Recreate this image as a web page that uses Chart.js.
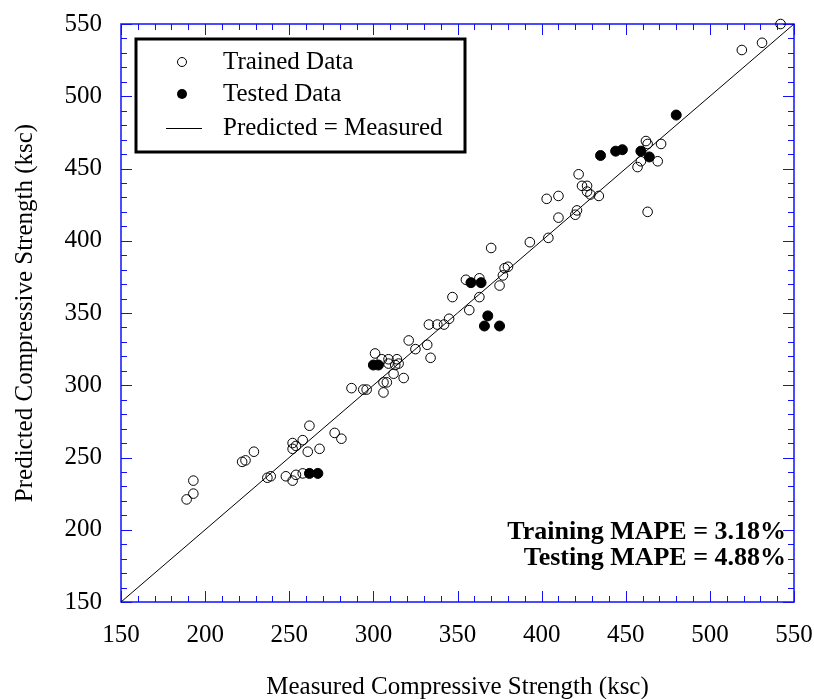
<!DOCTYPE html>
<html>
<head>
<meta charset="utf-8">
<title>Measured vs Predicted Compressive Strength</title>
<script src="https://cdn.jsdelivr.net/npm/chart.js@4.4.1/dist/chart.umd.min.js"></script>
<style>
  html, body { margin: 0; padding: 0; background: #fff; }
  #wrap { width: 814px; height: 699px; }
</style>
</head>
<body>
<div id="wrap"><canvas id="strengthChart" width="814" height="699"></canvas></div>
<script>
// training set: measured (x) and predicted (y), ksc
const trainMeasured = [
  189, 193, 193, 222, 224, 229, 237, 239, 248, 252, 252, 252, 254, 254, 258, 258, 261, 262, 268, 277, 281,
  287, 294, 296, 306, 306, 308, 312, 318, 301, 305, 309, 309, 314, 315, 313, 321, 325, 332, 334, 333, 338,
  342, 345, 347, 357, 355, 363, 363, 370, 375, 377, 378, 380, 393,
  404, 410, 421, 420, 403, 410, 422, 424, 427, 427, 429, 434, 457, 459, 462, 463, 469, 471, 463, 519, 531, 542
];
const trainPredicted = [
  221, 225, 234, 247, 248, 254, 236, 237, 237, 260, 256, 234, 258, 238, 262, 239, 254, 272, 256, 267, 263,
  298, 297, 297, 295, 302, 302, 308, 305, 322, 318, 318, 315, 318, 315, 314, 331, 325, 328, 319, 342, 342,
  342, 346, 361, 352, 373, 374, 361, 395, 369, 376, 381, 382, 399,
  402, 416, 421, 418, 429, 431, 446, 438, 438, 434, 432, 431, 451, 455, 469, 467, 455, 467, 420, 532, 537, 550
];

// testing set
const testMeasured  = [262, 267, 300, 303, 358, 364, 366, 368, 375, 435, 444, 448, 459, 464, 480];
const testPredicted = [239, 239, 314, 314, 371, 371, 341, 348, 341, 459, 462, 463, 462, 458, 487];

// 1:1 reference line
const idealLine = [150, 550];

const axisMin = 150, axisMax = 550, majorStep = 50, minorStep = 10;
const trainingMape = '3.18%';
const testingMape = '4.88%';

const serif = '"Liberation Serif", "Times New Roman", serif';
const axisBlue = '#1010ff';

const toPoints = (xs, ys) => xs.map((v, i) => ({ x: v, y: ys[i] }));

// blue frame with inward ticks on all four sides
const frameTicks = {
  id: 'frameTicks',
  beforeDatasetsDraw(chart) {
    const { ctx, chartArea: a, scales: { x, y } } = chart;
    ctx.save();
    ctx.strokeStyle = axisBlue;
    ctx.lineWidth = 1.5;
    ctx.strokeRect(a.left, a.top, a.right - a.left, a.bottom - a.top);
    ctx.lineWidth = 1;
    for (let v = axisMin; v <= axisMax; v += minorStep) {
      const len = v % majorStep === 0 ? 11 : 6;
      const px = Math.round(x.getPixelForValue(v)) + 0.5;
      const py = Math.round(y.getPixelForValue(v)) + 0.5;
      ctx.beginPath();
      ctx.moveTo(px, a.bottom); ctx.lineTo(px, a.bottom - len);
      ctx.moveTo(px, a.top); ctx.lineTo(px, a.top + len);
      ctx.moveTo(a.left, py); ctx.lineTo(a.left + len, py);
      ctx.moveTo(a.right, py); ctx.lineTo(a.right - len, py);
      ctx.stroke();
    }
    ctx.restore();
  }
};

// boxed legend in the upper left and the MAPE notes in the lower right
const notes = {
  id: 'notes',
  afterDraw(chart) {
    const { ctx, chartArea: a } = chart;
    ctx.save();
    const bx = a.left + 15, by = a.top + 15, bw = 329, bh = 113;
    ctx.fillStyle = '#fff';
    ctx.fillRect(bx, by, bw, bh);
    ctx.strokeStyle = '#000';
    ctx.lineWidth = 3;
    ctx.strokeRect(bx, by, bw, bh);

    const mx = bx + 46, tx = bx + 87;
    const rows = [by + 23, by + 55, by + 89];
    ctx.lineWidth = 1;
    ctx.beginPath();
    ctx.arc(mx, rows[0], 4.5, 0, Math.PI * 2);
    ctx.stroke();
    ctx.fillStyle = '#000';
    ctx.beginPath();
    ctx.arc(mx, rows[1], 5, 0, Math.PI * 2);
    ctx.fill();
    ctx.beginPath();
    ctx.moveTo(mx - 16, rows[2] + 0.5);
    ctx.lineTo(mx + 20, rows[2] + 0.5);
    ctx.stroke();

    ctx.font = '25px ' + serif;
    ctx.textBaseline = 'middle';
    ctx.textAlign = 'left';
    ctx.fillText('Trained Data', tx, rows[0]);
    ctx.fillText('Tested Data', tx, rows[1]);
    ctx.fillText('Predicted = Measured', tx, rows[2]);

    ctx.font = 'bold 26px ' + serif;
    ctx.textAlign = 'right';
    ctx.fillText('Training MAPE = ' + trainingMape, a.right - 8, a.bottom - 70);
    ctx.fillText('Testing MAPE = ' + testingMape, a.right - 8, a.bottom - 44);
    ctx.restore();
  }
};

new Chart(document.getElementById('strengthChart'), {
  type: 'scatter',
  data: {
    datasets: [
      {
        label: 'Trained Data',
        data: toPoints(trainMeasured, trainPredicted),
        pointStyle: 'circle',
        pointRadius: 4.8,
        pointBorderWidth: 1,
        borderColor: '#000',
        backgroundColor: 'rgba(0,0,0,0)',
        clip: false
      },
      {
        label: 'Tested Data',
        data: toPoints(testMeasured, testPredicted),
        pointStyle: 'circle',
        pointRadius: 5,
        pointBorderWidth: 1,
        borderColor: '#000',
        backgroundColor: '#000',
        clip: false
      },
      {
        label: 'Predicted = Measured',
        type: 'line',
        data: toPoints(idealLine, idealLine),
        borderColor: '#000',
        borderWidth: 1,
        pointRadius: 0,
        fill: false
      }
    ]
  },
  options: {
    responsive: false,
    animation: false,
    layout: { padding: { top: 24, right: 20, left: 0, bottom: -3 } },
    plugins: {
      legend: { display: false },
      tooltip: { enabled: false }
    },
    scales: {
      x: {
        type: 'linear',
        min: axisMin,
        max: axisMax,
        afterFit: s => {
          s.height = 100;
          s.paddingLeft = 0;
          s.paddingRight = 0;
        },
        ticks: {
          stepSize: majorStep,
          color: '#000',
          padding: 18,
          font: { family: serif, size: 25 }
        },
        grid: { display: false, drawTicks: false },
        border: { display: false },
        title: {
          display: true,
          text: 'Measured Compressive Strength (ksc)',
          color: '#000',
          padding: { top: 0, bottom: 0 },
          font: { family: serif, size: 25 }
        }
      },
      y: {
        type: 'linear',
        min: axisMin,
        max: axisMax,
        afterFit: s => {
          s.width = 121;
          s.paddingTop = 0;
          s.paddingBottom = 0;
        },
        ticks: {
          stepSize: majorStep,
          color: '#000',
          padding: 19,
          font: { family: serif, size: 25 }
        },
        grid: { display: false, drawTicks: false },
        border: { display: false },
        title: {
          display: true,
          text: 'Predicted Compressive Strength (ksc)',
          color: '#000',
          padding: { top: 10, bottom: 0 },
          font: { family: serif, size: 25 }
        }
      }
    }
  },
  plugins: [frameTicks, notes]
});
</script>
</body>
</html>
